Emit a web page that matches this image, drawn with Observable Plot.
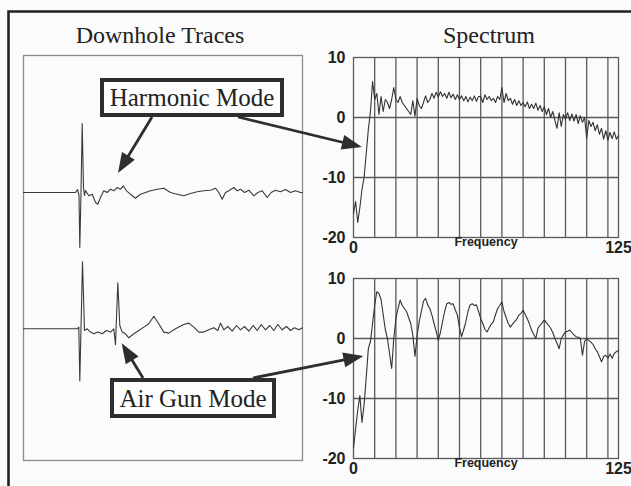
<!DOCTYPE html>
<html><head><meta charset="utf-8">
<script src="https://cdn.jsdelivr.net/npm/d3@7"></script>
<script src="https://cdn.jsdelivr.net/npm/@observablehq/plot@0.6"></script>
<style>
html,body{margin:0;padding:0;background:#fbfbfb;}
#root{position:relative;width:631px;height:486px;overflow:hidden;background:#fbfbfb;}
</style></head><body><div id="root"></div>
<script>
// ---- data ----
const upperTraceTime = [0,52,54,55.5,56.3,57.5,58.7,60,61,62,65.3,68.7,72,74.3,77,80.3,83.7,87,90.3,93.7,97,99.7,103,107,112,117,122,127,133.7,140.3,147,153.7,160.3,167,173.7,180.3,187,192,195.3,198.7,202,205.3,210.3,213.7,217,221,225.3,230.3,234.3,238.7,243.7,247.7,252,257,262,267,272,277,279];
const upperTraceAmp = [0,0,0.3,-0.3,-5.5,0,6.9,0.5,-0.3,0.2,-0.33,-0.17,-1,-1.17,-0.5,0.17,0,0.33,0.17,0.5,0.33,0.67,0.17,-0.17,-0.57,-0.17,0,0.17,0.33,0.43,0,-0.17,-0.33,-0.1,0.07,0.17,0.23,0.43,0,-0.67,0,0.17,0.5,0.17,0.33,0,0.23,-0.33,0,0.17,-0.5,0,0.23,0.07,0.3,0,0.17,0,0];
const lowerTraceTime = [0,53.7,55.3,56.3,59,61,63.7,67,70.3,74.3,78.7,83,87,90.3,92,94.3,96.3,98.7,102,105.3,110.3,115.3,120.3,125.3,130.3,135.3,140.3,145.3,150.3,155.3,160.3,165.3,170.3,175.3,180.3,185.3,190.3,194.3,197,200.3,204.3,208.7,213,217,221,225.3,229.7,233.7,237.7,242,246.3,250.3,254.3,258.7,263,267,271,275.3,279];
const lowerTraceAmp = [0,0,0.17,-5.2,6.7,-0.17,0,-0.33,-0.5,-0.33,-0.5,-0.17,-0.33,0,-1.6,4.6,0.33,-0.33,-0.5,-0.9,-0.5,-0.17,0.17,0.5,1.25,0.5,-0.33,-0.43,-0.1,0.17,0.43,0.57,0.17,-0.33,-0.33,-0.1,0.1,-0.17,0.57,-0.1,0.23,-0.23,0.33,-0.1,0.23,-0.23,0.33,-0.17,0.43,-0.1,0.33,-0.17,0.43,-0.1,0.23,-0.17,0.1,-0.1,0.1];
const traceBaselines = [6.55, -7.08]; // upper, lower

// spectra, dB at 0..125 Hz (1 Hz steps)
const harmonicSpectrum = [
 -16,-14,-17.5,-15,-12,-10,-6,-2,1,6,
 3,4,0.5,3.5,1,3,2.5,1.5,3,5,
 3,2.5,3.5,2.5,2,1.5,1,0.5,2.8,0.2,
 3.2,2,1.5,2.5,3.6,2.5,3,4,3.2,4.2,
 3.4,4.3,3.5,4,3.2,4.2,3.3,3.9,3,3.8,
 3,3.6,2.8,3.5,2.6,3.4,2.8,3.6,2.7,3.5,
 3.5,2.5,3.8,3,3.5,2.8,3.2,2.5,3.5,3,
 5,2.5,4,2.8,3.2,2.2,3,2,2.8,2,
 2.5,1.8,2.6,1.5,2.2,1.5,2.4,1.2,2,1,
 1.8,0.5,1.5,0,1,-0.5,-1.8,0.8,-1.5,0.5,
 -0.3,0.8,-0.5,0.6,-0.6,0.5,-1,0.3,-0.8,0,
 -3.5,-0.5,-1.5,-0.8,-2.2,-1.2,-2.8,-1.8,-3.6,-2.2,
 -3.8,-2.5,-3.5,-2.4,-3.6,-3];
const airGunSpectrum = [
 -18.3,-15,-12,-9.5,-14,-11,-6.5,-1.7,-0.5,2.5,
 5.6,7.8,7.5,6.5,4,1.5,0,-2.5,-5,0,
 3.3,5,6.4,5.5,5,4.5,3.5,2.5,0.5,-3,
 0.5,2.8,4.5,6.2,6.7,5.6,5,3.9,2.5,1.2,
 -0.3,1,2.8,4.5,5.8,6,5.7,5.8,4.8,3.9,
 1.8,0.3,1.5,2.8,4.5,5.6,5.8,5.5,5.6,4.5,
 3.3,2.5,1.5,1.1,1.8,2.4,2.8,4,5,5.5,
 6.1,4.5,3.5,2.5,1.9,2.4,2.8,3.2,3.9,4.2,
 4.7,4,3.3,2.4,1.4,0.7,0,1.7,2.2,2.6,
 3.1,2.6,2.2,1.7,1,0,-0.8,-1.7,0,0.6,
 1.1,1.2,1.4,1,0.6,0.3,0.2,0,-2.8,-0.5,
 0,-0.3,-0.6,-1,-1.7,-2.2,-3,-3.9,-3,-2.8,
 -3.3,-2.6,-3.3,-2.5,-2.2,-2];

const freqTicks = [0, 125];
const freqGrid = [10,20,30,40,50,60,70,80,90,100,110,120];
const dbTicks = [10, 0, -10, -20];
const dbGrid = [0, -10];
const titles = ["Downhole Traces", "Spectrum"];
const callouts = ["Harmonic Mode", "Air Gun Mode"];

// ---- layout ----
const root = document.getElementById("root");
const sans = "'Liberation Sans', Arial, Helvetica, sans-serif";
const serif = "'Liberation Serif', 'Times New Roman', Times, serif";
const ink = "#2e2e2e";

function place(el, left, top) {
  el.style.position = "absolute";
  el.style.left = left + "px";
  el.style.top = top + "px";
  root.appendChild(el);
  return el;
}

// Downhole traces panel
const traceLeft = 22, traceTop = 54;
const tracesPlot = Plot.plot({
  width: 281, height: 407, margin: 1,
  style: {background: "transparent", overflow: "visible"},
  x: {domain: [0, 279], axis: null},
  y: {domain: [-20.25, 20.25], axis: null},
  marks: [
    Plot.frame({stroke: "#8c8c8c", strokeWidth: 1.3}),
    Plot.line(upperTraceTime, {x: d => d, y: (d, i) => upperTraceAmp[i] + traceBaselines[0], stroke: "#3a3a3a", strokeWidth: 1.1}),
    Plot.line(lowerTraceTime, {x: d => d, y: (d, i) => lowerTraceAmp[i] + traceBaselines[1], stroke: "#3a3a3a", strokeWidth: 1.1})
  ]
});
place(tracesPlot, traceLeft, traceTop);

function spectrumPlot(values) {
  return Plot.plot({
    width: 313, height: 210,
    marginLeft: 35, marginRight: 13, marginTop: 10, marginBottom: 20,
    style: {background: "transparent", overflow: "visible", fontFamily: sans, color: "#222"},
    x: {domain: [0, 125]},
    y: {domain: [-20, 10]},
    marks: [
      Plot.ruleX(freqGrid, {stroke: "#5a5a5a", strokeWidth: 1.3}),
      Plot.ruleY(dbGrid, {stroke: "#5a5a5a", strokeWidth: 1.3}),
      Plot.frame({stroke: "#5a5a5a", strokeWidth: 1.3}),
      Plot.line(values, {x: (d, i) => i, y: d => d, stroke: "#333", strokeWidth: 1.1}),
      Plot.axisY({ticks: dbTicks, tickSize: 0, tickPadding: 8, label: null, tickFormat: d => String(d), fontSize: 16, fontWeight: "bold", fill: "#222"}),
      Plot.axisX({ticks: freqTicks, tickSize: 0, tickPadding: 4, label: null, tickFormat: d => String(d), fontSize: 16, fontWeight: "bold", fill: "#222"}),
      Plot.text(["Frequency"], {frameAnchor: "bottom", dy: 8, text: d => d, fontSize: 12.5, fontWeight: "bold", fill: "#222"})
    ]
  });
}
const specLeft = 318;
const specTop1 = 47, specTop2 = 268;
const harmonicPlot = place(spectrumPlot(harmonicSpectrum), specLeft, specTop1);
const airGunPlot = place(spectrumPlot(airGunSpectrum), specLeft, specTop2);

// ---- overlay: frame, titles, callouts, arrows ----
const svg = d3.create("svg").attr("width", 631).attr("height", 486);
place(svg.node(), 0, 0);

svg.append("path").attr("d", "M8.5,490V11.5H640").attr("fill", "none").attr("stroke", "#222").attr("stroke-width", 2.6);

svg.append("text").attr("x", 160).attr("y", 43).attr("text-anchor", "middle")
  .attr("font-family", serif).attr("font-size", 24).attr("fill", "#222").text(titles[0]);
svg.append("text").attr("x", 489).attr("y", 43).attr("text-anchor", "middle")
  .attr("font-family", serif).attr("font-size", 24).attr("fill", "#222").text(titles[1]);

function toPage(plot, left, top, x, y) {
  return [left + plot.scale("x").apply(x), top + plot.scale("y").apply(y)];
}

function arrow(x1, y1, x2, y2) {
  const L = 20, W = 7.5;
  const dx = x2 - x1, dy = y2 - y1, len = Math.hypot(dx, dy), ux = dx / len, uy = dy / len;
  const bx = x2 - ux * L, by = y2 - uy * L;
  svg.append("line").attr("x1", x1).attr("y1", y1).attr("x2", bx + ux * 3).attr("y2", by + uy * 3)
    .attr("stroke", ink).attr("stroke-width", 2.8);
  svg.append("path").attr("d", `M${x2},${y2}L${bx - uy * W},${by + ux * W}L${bx + uy * W},${by - ux * W}Z`).attr("fill", ink);
}

function callout(label, box) {
  svg.append("rect").attr("x", box.x + 2).attr("y", box.y + 2).attr("width", box.w - 4).attr("height", box.h - 4)
    .attr("fill", "#fdfdfd").attr("stroke", ink).attr("stroke-width", 4);
  svg.append("text").attr("x", box.x + box.w / 2).attr("y", box.y + box.h / 2 + 8.5).attr("text-anchor", "middle")
    .attr("font-family", serif).attr("font-size", 25).attr("fill", "#222").text(label);
}

const box1 = {x: 100, y: 78, w: 184, h: 39};
const box2 = {x: 110, y: 378, w: 166, h: 40};

// arrows: tails on boxes, tips in data coordinates of the panels
const tip1 = toPage(tracesPlot, traceLeft, traceTop, 95, 1.9 + traceBaselines[0]);
const tip2 = toPage(harmonicPlot, specLeft, specTop1, 4.2, -5);
const tip3 = toPage(tracesPlot, traceLeft, traceTop, 98.7, -1.5 + traceBaselines[1]);
const tip4 = toPage(airGunPlot, specLeft, specTop2, 4.9, -3);

arrow(box1.x + 52, box1.y + box1.h, tip1[0], tip1[1]);
arrow(box1.x + 138, box1.y + box1.h, tip2[0], tip2[1]);
arrow(box2.x + 33, box2.y, tip3[0], tip3[1]);
arrow(box2.x + 143, box2.y, tip4[0], tip4[1]);

callout(callouts[0], box1);
callout(callouts[1], box2);
</script></body></html>
